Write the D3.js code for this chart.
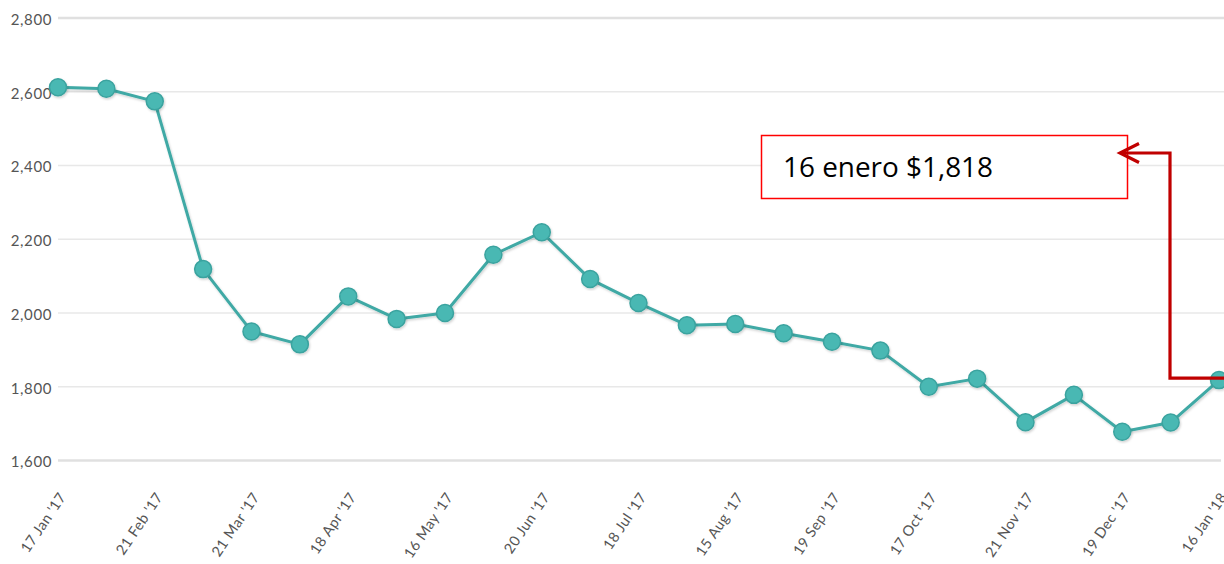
<!DOCTYPE html>
<html>
<head>
<meta charset="utf-8">
<script src="https://cdn.jsdelivr.net/npm/d3@7"></script>
<style>
  html, body { margin: 0; padding: 0; background: #ffffff; }
  svg { display: block; }
</style>
</head>
<body>
<svg id="chart" width="1224" height="564"></svg>
<script>
// ---- Data ----
const dates = [
  "17 Jan '17", "31 Jan '17", "21 Feb '17", "7 Mar '17", "21 Mar '17",
  "4 Apr '17", "18 Apr '17", "2 May '17", "16 May '17", "6 Jun '17",
  "20 Jun '17", "4 Jul '17", "18 Jul '17", "1 Aug '17", "15 Aug '17",
  "5 Sep '17", "19 Sep '17", "3 Oct '17", "17 Oct '17", "7 Nov '17",
  "21 Nov '17", "5 Dec '17", "19 Dec '17", "2 Jan '18", "16 Jan '18"
];
const prices = [
  2612, 2608, 2574, 2119, 1950,
  1915, 2045, 1984, 2000, 2158,
  2219, 2092, 2027, 1967, 1970,
  1945, 1922, 1898, 1800, 1822,
  1704, 1778, 1678, 1703, 1818
];
const xTickLabels = [
  "17 Jan '17", "21 Feb '17", "21 Mar '17", "18 Apr '17", "16 May '17",
  "20 Jun '17", "18 Jul '17", "15 Aug '17", "19 Sep '17", "17 Oct '17",
  "21 Nov '17", "19 Dec '17", "16 Jan '18"
];
const yTicks = [1600, 1800, 2000, 2200, 2400, 2600, 2800];
const annotationText = "16 enero $1,818";

// ---- Chart ----
const svg = d3.select("#chart");

const x = d3.scalePoint().domain(dates).range([58, 1219]);
const y = d3.scaleLinear().domain([1600, 2800]).range([460.5, 18]);

// gridlines
const grid = svg.append("g");
grid.selectAll("line")
  .data(yTicks)
  .join("line")
  .attr("x1", 58)
  .attr("x2", d => d === 1600 ? 1221 : 1224)
  .attr("y1", d => y(d))
  .attr("y2", d => y(d))
  .attr("stroke", d => (d === 1600 || d === 2800) ? "#e0e0e0" : "#e8e8e8")
  .attr("stroke-width", d => (d === 1600 || d === 2800) ? 2.5 : 1.3);

// y axis labels
const yAxis = svg.append("g")
  .attr("transform", "translate(52,0)")
  .call(d3.axisLeft(y).tickValues(yTicks).tickSize(0).tickPadding(0).tickFormat(d3.format(",")));
yAxis.select(".domain").remove();
yAxis.selectAll("text")
  .attr("fill", "#555555")
  .attr("font-family", "Lato, 'Open Sans', sans-serif")
  .attr("font-size", 15)
  .attr("letter-spacing", "0.6px")
  .attr("dy", "0.42em");

// x axis labels
const xAxis = svg.append("g")
  .attr("transform", "translate(0,494)")
  .call(d3.axisBottom(x).tickValues(xTickLabels).tickSize(0).tickPadding(0));
xAxis.select(".domain").remove();
xAxis.selectAll("text")
  .attr("fill", "#555555")
  .attr("font-family", "Lato, 'Open Sans', sans-serif")
  .attr("font-size", 14.5)
  .attr("letter-spacing", "0.4px")
  .attr("text-anchor", "end")
  .attr("dy", "0.35em")
  .attr("dx", 0)
  .attr("transform", "translate(4,0) rotate(-56)");

// shadow filter
const defs = svg.append("defs");
const f = defs.append("filter").attr("id", "shadow").attr("x", "-20%").attr("y", "-20%").attr("width", "140%").attr("height", "140%");
f.append("feDropShadow").attr("dx", 1).attr("dy", 1.5).attr("stdDeviation", 1.2).attr("flood-color", "#000").attr("flood-opacity", 0.18);

// line
const line = d3.line().x((d, i) => x(dates[i])).y(d => y(d));
svg.append("path")
  .datum(prices)
  .attr("d", line)
  .attr("fill", "none")
  .attr("stroke", "#3fa9a5")
  .attr("stroke-width", 3)
  .attr("stroke-linejoin", "round")
  .attr("filter", "url(#shadow)");

// markers
svg.append("g")
  .selectAll("circle")
  .data(prices)
  .join("circle")
  .attr("cx", (d, i) => x(dates[i]))
  .attr("cy", d => y(d))
  .attr("r", 8.5)
  .attr("fill", "#4ab8b3")
  .attr("stroke", "#3aa39f")
  .attr("stroke-width", 1.5)
  .attr("filter", "url(#shadow)");

// annotation box
const ann = svg.append("g");
ann.append("rect")
  .attr("x", 761.5).attr("y", 135.5)
  .attr("width", 366).attr("height", 63)
  .attr("fill", "#ffffff")
  .attr("stroke", "#ff0000")
  .attr("stroke-width", 1.5);
ann.append("text")
  .attr("x", 783).attr("y", 177)
  .attr("font-family", "'Open Sans', 'Noto Sans', sans-serif")
  .attr("font-size", 27)
  .attr("fill", "#000000")
  .attr("textLength", 210)
  .attr("lengthAdjust", "spacingAndGlyphs")
  .text(annotationText);

// elbow arrow from last point to the box
const lastX = x(dates[dates.length - 1]);
const lastY = y(prices[prices.length - 1]);
const elbowX = 1170, tipX = 1120, tipY = 153;
svg.append("path")
  .attr("d", `M${lastX + 6},${lastY - 2} H${elbowX} V${tipY} H${tipX + 1}`)
  .attr("fill", "none")
  .attr("stroke", "#c00000")
  .attr("stroke-width", 3.2);
svg.append("path")
  .attr("d", `M${tipX + 19},${tipY - 9.5} L${tipX},${tipY} L${tipX + 19},${tipY + 9.5}`)
  .attr("fill", "none")
  .attr("stroke", "#c00000")
  .attr("stroke-width", 3.2)
  .attr("stroke-linejoin", "miter");
</script>
</body>
</html>
